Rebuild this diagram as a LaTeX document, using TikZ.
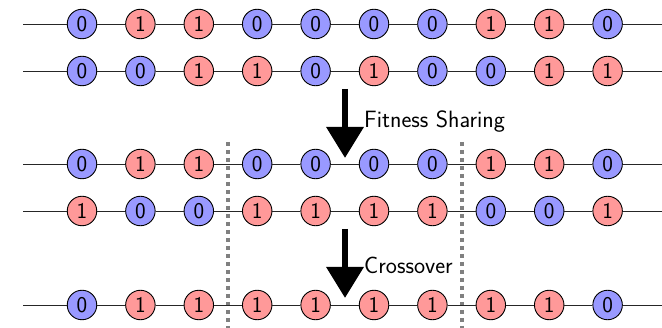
\documentclass[tikz,border=0pt]{standalone}
\usetikzlibrary{arrows.meta}
\begin{document}
\begin{tikzpicture}[x=1pt,y=-1pt,
  bit/.style={circle,draw=black,line width=0.9pt,minimum size=29.5pt,inner sep=0pt,
    font=\sffamily\fontsize{22.5}{26}\selectfont},
  b0/.style={bit,fill=blue!40},
  b1/.style={bit,fill=red!40},
  wire/.style={line width=0.9pt,draw=black!85},
  cut/.style={line width=4pt,draw=black!50,dash pattern=on 4pt off 4pt},
  bigarrow/.style={line width=6.5pt,-{Triangle[width=36pt,length=31pt]}},
  lbl/.style={anchor=west,inner sep=0pt,font=\sffamily\fontsize{23.6}{27}\selectfont}]
\useasboundingbox (0,0) rectangle (662,328);
% cut lines
\coordinate (c1t) at (228,142); \coordinate (c1b) at (228,328);
\coordinate (c2t) at (462,142); \coordinate (c2b) at (462,328);
\draw[cut] (c1t) -- (c1b);
\draw[cut] (c2t) -- (c2b);
% rows
\foreach \r/\y/\bits in {1/24/{0,1,1,0,0,0,0,1,1,0},
                         2/71/{0,0,1,1,0,1,0,0,1,1},
                         3/164/{0,1,1,0,0,0,0,1,1,0},
                         4/211/{1,0,0,1,1,1,1,0,0,1},
                         5/305/{0,1,1,1,1,1,1,1,1,0}}{
  \coordinate (L\r) at (23,\y);
  \coordinate (R\r) at (662,\y);
  \foreach \b [count=\i] in \bits {
    \node[b\b] (n\r-\i) at ({82+58.4*(\i-1)},\y) {\b};
  }
  \draw[wire] (L\r) -- (n\r-1);
  \foreach \i [evaluate=\i as \j using int(\i+1)] in {1,...,9} {
    \draw[wire] (n\r-\i) -- (n\r-\j);
  }
  \draw[wire] (n\r-10) -- (R\r);
}
% arrows
\coordinate (a1s) at (345,89); \coordinate (a1e) at (345,158);
\coordinate (a2s) at (345,229); \coordinate (a2e) at (345,298);
\draw[bigarrow] (a1s) -- (a1e);
\draw[bigarrow] (a2s) -- (a2e);
\node[lbl] (t1) at (364,122) {Fitness Sharing};
\node[lbl] (t2) at (364,265) {Crossover};
\end{tikzpicture}
\end{document}
